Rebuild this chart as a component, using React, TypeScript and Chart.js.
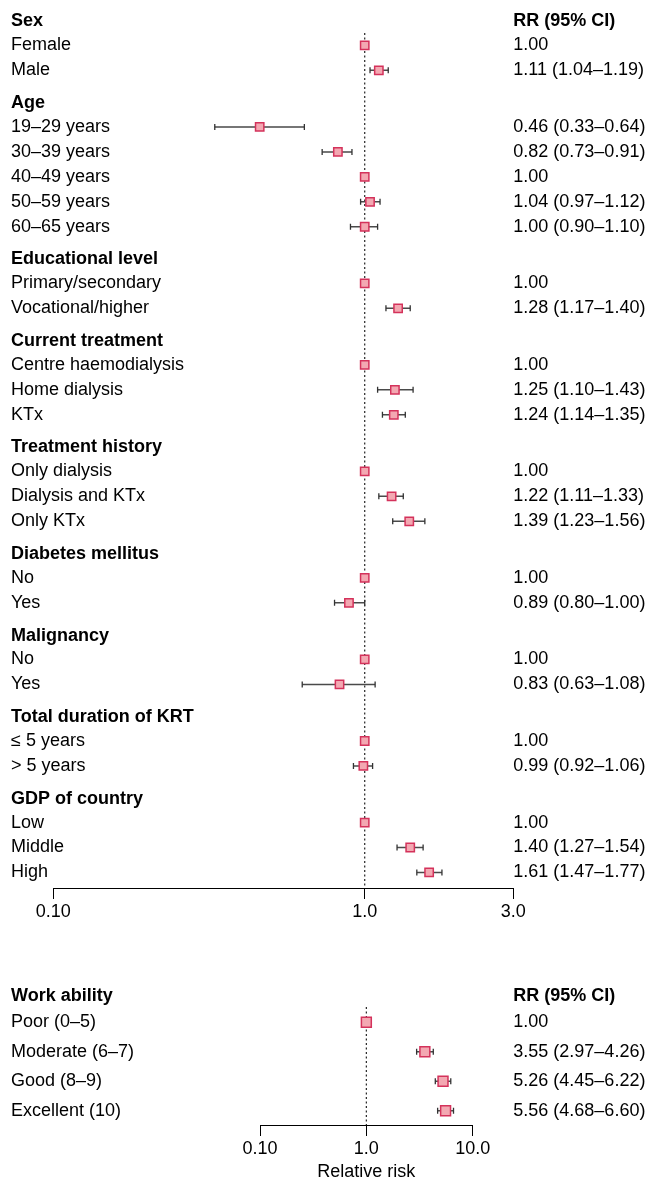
import React, { useEffect, useRef } from "react";
import { Chart, registerables } from "chart.js";

Chart.register(...registerables);

const FONT = "'Liberation Sans', Arial, Helvetica, sans-serif";
const FONT_SIZE = 18;
const FILL = "#f3a8b2";
const EDGE = "#d4325b";

// ---------- Data: top panel ----------
const topLabels = [
  "Sex", "Female", "Male",
  "Age", "19–29 years", "30–39 years", "40–49 years", "50–59 years", "60–65 years",
  "Educational level", "Primary/secondary", "Vocational/higher",
  "Current treatment", "Centre haemodialysis", "Home dialysis", "KTx",
  "Treatment history", "Only dialysis", "Dialysis and KTx", "Only KTx",
  "Diabetes mellitus", "No", "Yes",
  "Malignancy", "No", "Yes",
  "Total duration of KRT", "≤ 5 years", "> 5 years",
  "GDP of country", "Low", "Middle", "High",
];
const topRR = [
  null, 1.0, 1.11,
  null, 0.46, 0.82, 1.0, 1.04, 1.0,
  null, 1.0, 1.28,
  null, 1.0, 1.25, 1.24,
  null, 1.0, 1.22, 1.39,
  null, 1.0, 0.89,
  null, 1.0, 0.83,
  null, 1.0, 0.99,
  null, 1.0, 1.4, 1.61,
];
const topLower = [
  null, null, 1.04,
  null, 0.33, 0.73, null, 0.97, 0.9,
  null, null, 1.17,
  null, null, 1.1, 1.14,
  null, null, 1.11, 1.23,
  null, null, 0.8,
  null, null, 0.63,
  null, null, 0.92,
  null, null, 1.27, 1.47,
];
const topUpper = [
  null, null, 1.19,
  null, 0.64, 0.91, null, 1.12, 1.1,
  null, null, 1.4,
  null, null, 1.43, 1.35,
  null, null, 1.33, 1.56,
  null, null, 1.0,
  null, null, 1.08,
  null, null, 1.06,
  null, null, 1.54, 1.77,
];
const topTickValues = [0.1, 1, 3];
const topTickLabels = ["0.10", "1.0", "3.0"];

// ---------- Data: bottom panel ----------
const workLabels = ["Work ability", "Poor (0–5)", "Moderate (6–7)", "Good (8–9)", "Excellent (10)"];
const workRR = [null, 1.0, 3.55, 5.26, 5.56];
const workLower = [null, null, 2.97, 4.45, 4.68];
const workUpper = [null, null, 4.26, 6.22, 6.6];
const workTickValues = [0.1, 1, 10];
const workTickLabels = ["0.10", "1.0", "10.0"];

const columnTitle = "RR (95% CI)";
const axisTitle = "Relative risk";

type Num = number | null;

function rowPositions(rr: Num[], start: number, headerToItem: number, itemToItem: number, itemToHeader: number) {
  const pos: number[] = [];
  let y = start;
  rr.forEach((v, i) => {
    if (i > 0) {
      const isHeader = v === null;
      const prevHeader = rr[i - 1] === null;
      y += isHeader ? itemToHeader : prevHeader ? headerToItem : itemToItem;
    }
    pos.push(y);
  });
  return pos;
}

function rrText(rr: Num[], lo: Num[], hi: Num[], i: number) {
  const v = rr[i];
  if (v === null) return i === 0 ? columnTitle : "";
  if (lo[i] === null) return v.toFixed(2);
  return `${v.toFixed(2)} (${(lo[i] as number).toFixed(2)}–${(hi[i] as number).toFixed(2)})`;
}

type Panel = {
  labels: string[];
  rr: Num[];
  lower: Num[];
  upper: Num[];
  tickValues: number[];
  tickLabels: string[];
  xMin: number;
  xMax: number;
  width: number;
  height: number;
  plotBottom: number;
  leftPad: number;
  leftWidth: number;
  rightWidth: number;
  rightPad: number;
  xAxisHeight: number;
  refTop: number;
  squareRadius: number;
  positions: number[];
  title?: string;
};

function buildChart(canvas: HTMLCanvasElement, p: Panel) {
  const pos = p.positions;
  const squares: any[] = [];
  const whisk: any[] = [];
  const caps: any[] = [];
  p.rr.forEach((v, i) => {
    if (v !== null) squares.push({ x: v, y: pos[i] });
    if (p.lower[i] !== null && p.upper[i] !== null) {
      whisk.push({ x: p.lower[i], y: pos[i] }, { x: p.upper[i], y: pos[i] }, { x: null, y: null });
      caps.push({ x: p.lower[i], y: pos[i] }, { x: p.upper[i], y: pos[i] });
    }
  });
  const tickFont = (ctx: any) => ({
    family: FONT,
    size: FONT_SIZE,
    weight: p.rr[ctx.index] === null ? "bold" : "normal",
  });
  const setYTicks = (s: any) => {
    s.ticks = pos.map((v) => ({ value: v }));
  };

  return new Chart(canvas, {
    type: "scatter",
    data: {
      datasets: [
        {
          label: "rr",
          data: squares,
          pointStyle: "rect",
          pointRadius: p.squareRadius,
          pointHoverRadius: p.squareRadius,
          pointBackgroundColor: FILL,
          pointBorderColor: EDGE,
          pointBorderWidth: 1.5,
          showLine: false,
          order: 0,
        },
        {
          label: "caps",
          data: caps,
          pointStyle: "line",
          pointRotation: 90,
          pointRadius: 3,
          pointBorderColor: "#333",
          pointBorderWidth: 1.3,
          showLine: false,
          order: 1,
        },
        {
          label: "ci",
          data: whisk,
          showLine: true,
          spanGaps: false,
          borderColor: "#4a4a4a",
          borderWidth: 1.5,
          pointRadius: 0,
          order: 2,
        },
        {
          label: "ref",
          data: [
            { x: 1, y: p.refTop },
            { x: 1, y: p.plotBottom },
          ],
          showLine: true,
          borderColor: "#222",
          borderWidth: 1.2,
          borderDash: [2, 2.5],
          pointRadius: 0,
          order: 3,
        },
      ] as any,
    },
    options: {
      animation: false,
      responsive: false,
      events: [],
      layout: { autoPadding: false, padding: { left: p.leftPad, right: 0, top: 0, bottom: 0 } },
      plugins: { legend: { display: false }, tooltip: { enabled: false } },
      scales: {
        x: {
          type: "logarithmic",
          position: "bottom",
          min: p.xMin,
          max: p.xMax,
          afterBuildTicks: (s: any) => {
            s.ticks = p.tickValues.map((v) => ({ value: v }));
          },
          afterFit: (s: any) => {
            s.height = p.xAxisHeight;
          },
          ticks: {
            autoSkip: false,
            maxRotation: 0,
            padding: 2,
            color: "#000",
            font: { family: FONT, size: FONT_SIZE },
            callback: (_v: any, i: number) => p.tickLabels[i],
          },
          grid: { display: true, drawOnChartArea: false, drawTicks: true, tickLength: 11, color: "#000", lineWidth: 1 },
          border: { display: true, color: "#000", width: 1 },
          title: {
            display: !!p.title,
            text: p.title || "",
            color: "#000",
            font: { family: FONT, size: FONT_SIZE },
            padding: { top: 0, bottom: 2 },
          },
        },
        y: {
          type: "linear",
          position: "left",
          min: 0,
          max: p.plotBottom,
          reverse: true,
          afterBuildTicks: setYTicks,
          afterFit: (s: any) => {
            s.width = p.leftWidth;
            s.paddingTop = 0;
            s.paddingBottom = 0;
          },
          ticks: {
            autoSkip: false,
            mirror: true,
            crossAlign: "near",
            padding: -p.leftWidth,
            color: "#000",
            font: tickFont,
            callback: (_v: any, i: number) => p.labels[i],
          },
          grid: { display: false, drawTicks: false },
          border: { display: false },
        },
        y2: {
          type: "linear",
          position: "right",
          min: 0,
          max: p.plotBottom,
          reverse: true,
          afterBuildTicks: setYTicks,
          afterFit: (s: any) => {
            s.width = p.rightWidth;
            s.paddingTop = 0;
            s.paddingBottom = 0;
          },
          ticks: {
            autoSkip: false,
            crossAlign: "near",
            padding: p.rightPad,
            color: "#000",
            font: tickFont,
            callback: (_v: any, i: number) => rrText(p.rr, p.lower, p.upper, i),
          },
          grid: { display: false, drawTicks: false },
          border: { display: false },
        },
      },
    } as any,
  });
}

const topPanel: Panel = {
  labels: topLabels,
  rr: topRR,
  lower: topLower,
  upper: topUpper,
  tickValues: topTickValues,
  tickLabels: topTickLabels,
  xMin: 0.1,
  xMax: 3,
  width: 650,
  height: 928,
  plotBottom: 888,
  leftPad: 11,
  leftWidth: 42.3,
  rightWidth: 136.7,
  rightPad: 0,
  xAxisHeight: 40,
  refTop: 33,
  squareRadius: 5.9,
  positions: rowPositions(topRR, 21.5, 23.9, 24.95, 32.7),
};

const workPanel: Panel = {
  labels: workLabels,
  rr: workRR,
  lower: workLower,
  upper: workUpper,
  tickValues: workTickValues,
  tickLabels: workTickLabels,
  xMin: 0.1,
  xMax: 10,
  width: 650,
  height: 225,
  plotBottom: 165,
  leftPad: 11,
  leftWidth: 249,
  rightWidth: 177.3,
  rightPad: 40.6,
  xAxisHeight: 60,
  refTop: 47,
  squareRadius: 7,
  positions: rowPositions(workRR, 36, 26.3, 29.5, 29.5),
  title: axisTitle,
};

function ChartCanvas({ panel, top }: { panel: Panel; top: number }) {
  const ref = useRef<HTMLCanvasElement | null>(null);
  useEffect(() => {
    if (!ref.current) return;
    const chart = buildChart(ref.current, panel);
    return () => chart.destroy();
  }, [panel]);
  return (
    <canvas
      ref={ref}
      width={panel.width}
      height={panel.height}
      style={{ position: "absolute", left: 0, top, width: panel.width, height: panel.height, display: "block" }}
    />
  );
}

export default function App() {
  Chart.defaults.font.family = FONT;
  return (
    <div style={{ position: "absolute", left: 0, top: 0, width: 650, height: 1180, background: "#fff" }}>
      <ChartCanvas panel={topPanel} top={0} />
      <ChartCanvas panel={workPanel} top={960} />
    </div>
  );
}
